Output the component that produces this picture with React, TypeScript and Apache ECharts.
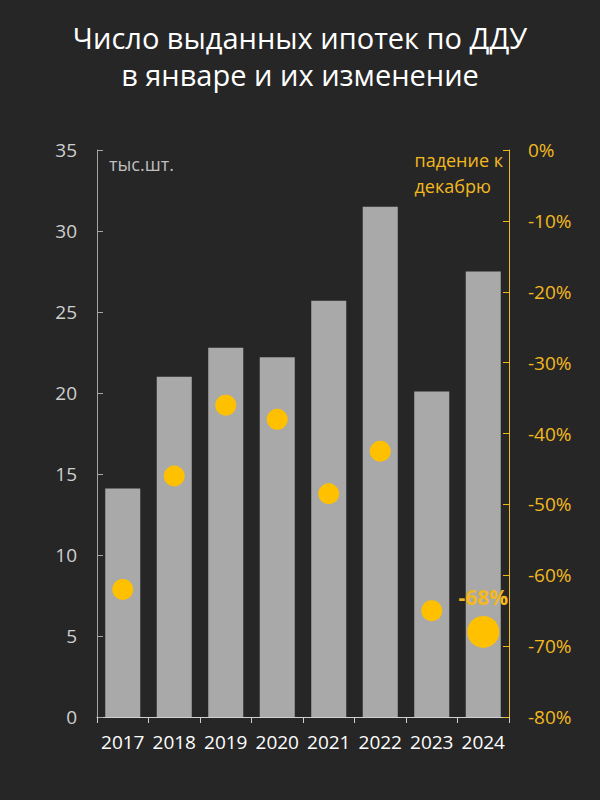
import React, { useEffect, useRef } from "react";
import * as echarts from "echarts";

const years = ["2017", "2018", "2019", "2020", "2021", "2022", "2023", "2024"];
const mortgages = [14.1, 21.0, 22.8, 22.2, 25.7, 31.5, 20.1, 27.5];
const declineToDecember = [-62, -46, -36, -38, -48.5, -42.5, -65, -68];
const highlightLabel = "-68%";

export default function App() {
  const ref = useRef<HTMLDivElement>(null);
  useEffect(() => {
    if (!ref.current) return;
    const chart = echarts.init(ref.current, undefined, { renderer: "svg" });
    const font = "'Open Sans', 'DejaVu Sans', sans-serif";
    const last = declineToDecember.length - 1;
    chart.setOption({
      animation: false,
      backgroundColor: "#262626",
      textStyle: { fontFamily: font },
      title: {
        text: "Число выданных ипотек по ДДУ\nв январе и их изменение",
        left: "center",
        top: 14,
        textStyle: {
          color: "#ffffff",
          fontSize: 29,
          fontWeight: "normal",
          lineHeight: 37,
          fontFamily: font,
        },
      },
      grid: { left: 97, right: 91, top: 150, bottom: 83 },
      xAxis: {
        type: "category",
        data: years,
        boundaryGap: true,
        axisLine: { lineStyle: { color: "#d0d0d0", width: 1 } },
        axisTick: { show: true, interval: 0, length: 6, lineStyle: { color: "#d0d0d0" } },
        axisLabel: {
          color: "#ffffff",
          fontSize: 19,
          margin: 15,
          interval: 0,
          hideOverlap: false,
          fontFamily: font,
        },
      },
      yAxis: [
        {
          type: "value",
          min: 0,
          max: 35,
          interval: 5,
          position: "left",
          splitLine: { show: false },
          axisLine: { show: true, lineStyle: { color: "#a6a6a6" } },
          axisTick: { show: true, inside: true, length: 6, lineStyle: { color: "#a6a6a6" } },
          axisLabel: { color: "#cfcfcf", fontSize: 19, margin: 20, fontFamily: font },
        },
        {
          type: "value",
          min: -80,
          max: 0,
          interval: 10,
          position: "right",
          splitLine: { show: false },
          axisLine: { show: true, lineStyle: { color: "#f2b81f" } },
          axisTick: { show: true, inside: true, length: 6, lineStyle: { color: "#f2b81f" } },
          axisLabel: {
            color: "#f2b81f",
            fontSize: 19,
            margin: 19,
            fontFamily: font,
            formatter: (v: number) => `${v}%`,
          },
        },
      ],
      series: [
        {
          type: "bar",
          data: mortgages,
          yAxisIndex: 0,
          barCategoryGap: "32%",
          itemStyle: { color: "#a9a9a9" },
        },
        {
          type: "scatter",
          yAxisIndex: 1,
          symbolSize: 21,
          itemStyle: { color: "#ffc000", opacity: 1 },
          data: declineToDecember.map((v, i) =>
            i === last
              ? {
                  value: v,
                  symbolSize: 32,
                  label: {
                    show: true,
                    position: "top",
                    distance: 8,
                    formatter: highlightLabel,
                    color: "#f2b81f",
                    fontSize: 21,
                    fontWeight: "bold",
                    fontFamily: font,
                  },
                }
              : v
          ),
          z: 3,
        },
      ],
      graphic: [
        {
          type: "text",
          left: 109,
          top: 155,
          style: { text: "тыс.шт.", fill: "#bfbfbf", fontSize: 18, fontFamily: font },
        },
        {
          type: "text",
          right: 97,
          top: 147,
          style: {
            text: "падение к\nдекабрю",
            fill: "#f2b81f",
            fontSize: 18,
            lineHeight: 26,
            align: "left",
            fontFamily: font,
          },
        },
      ],
    });
    return () => chart.dispose();
  }, []);
  return (
    <div
      ref={ref}
      style={{ position: "fixed", left: 0, top: 0, width: 600, height: 800 }}
    />
  );
}
